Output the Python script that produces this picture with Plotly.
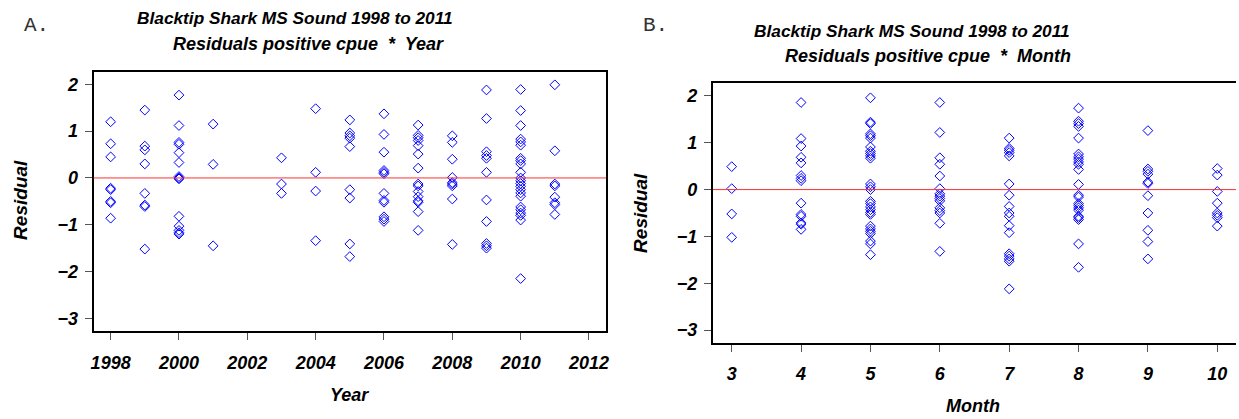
import plotly.graph_objects as go

# ---------------- data ----------------
years = [1998, 1999, 2000, 2001, 2003, 2004, 2005, 2006, 2007, 2008, 2009, 2010, 2011]
resid_by_year = [
    [1.2, 0.73, 0.45, -0.22, -0.25, -0.5, -0.53, -0.86],
    [1.45, 0.68, 0.6, 0.3, -0.33, -0.58, -0.61, -1.52],
    [1.77, 1.12, 0.76, 0.72, 0.54, 0.33, 0.03, 0.0, -0.02, -0.82, -1.03, -1.12, -1.17, -1.2],
    [1.15, 0.29, -1.45],
    [0.43, -0.13, -0.33],
    [1.48, 0.12, -0.28, -1.34],
    [1.24, 0.96, 0.9, 0.85, 0.67, -0.25, -0.43, -1.41, -1.68],
    [1.37, 0.93, 0.55, 0.16, 0.12, 0.09, -0.33, -0.48, -0.52, -0.83, -0.88, -0.93],
    [1.13, 0.91, 0.86, 0.8, 0.69, 0.51, 0.21, -0.13, -0.17, -0.29, -0.4, -0.49, -0.52, -0.72, -1.12],
    [0.9, 0.76, 0.4, 0.01, -0.1, -0.13, -0.17, -0.45, -1.42],
    [1.88, 1.27, 0.56, 0.48, 0.42, 0.12, -0.47, -0.93, -1.4, -1.45, -1.5],
    [1.89, 1.44, 1.12, 0.83, 0.77, 0.7, 0.42, 0.37, 0.3, 0.12, 0.0, -0.06, -0.12, -0.18,
     -0.25, -0.32, -0.39, -0.62, -0.68, -0.75, -0.8, -0.9, -2.15],
    [1.99, 0.58, -0.13, -0.17, -0.41, -0.53, -0.57, -0.78],
]

months = [3, 4, 5, 6, 7, 8, 9, 10]
resid_by_month = [
    [0.49, 0.02, -0.52, -1.02],
    [1.86, 1.09, 0.93, 0.69, 0.57, 0.3, 0.24, 0.19, -0.29, -0.53, -0.57, -0.71, -0.74, -0.85],
    [1.96, 1.44, 1.41, 1.19, 1.15, 1.1, 0.91, 0.82, 0.77, 0.72, 0.67, 0.12, 0.06, 0.0,
     -0.25, -0.3, -0.37, -0.43, -0.49, -0.53, -0.78, -0.84, -0.89, -0.94, -1.1, -1.16, -1.39],
    [1.86, 1.22, 0.68, 0.54, 0.29, 0.02, -0.09, -0.14, -0.19, -0.24, -0.39, -0.45, -0.5, -0.72, -1.32],
    [1.1, 0.88, 0.84, 0.79, 0.72, 0.12, -0.12, -0.36, -0.5, -0.57, -0.77, -0.92, -1.37, -1.42,
     -1.48, -1.53, -2.12],
    [1.74, 1.46, 1.41, 1.35, 1.1, 0.76, 0.7, 0.65, 0.59, 0.54, 0.43, 0.11, -0.12, -0.16, -0.3,
     -0.34, -0.39, -0.44, -0.57, -0.6, -0.64, -1.16, -1.66],
    [1.26, 0.44, 0.39, 0.33, 0.16, 0.13, -0.13, -0.5, -0.87, -1.11, -1.48],
    [0.45, 0.31, -0.04, -0.29, -0.5, -0.55, -0.6, -0.78],
]

year_ticks = [1998, 2000, 2002, 2004, 2006, 2008, 2010, 2012]
month_ticks = [3, 4, 5, 6, 7, 8, 9, 10]
resid_ticks = [-3, -2, -1, 0, 1, 2]

title_line1 = "Blacktip Shark MS Sound 1998 to 2011"
title_year = "Residuals positive cpue\u00a0 *\u00a0 Year"
title_month = "Residuals positive cpue\u00a0 *\u00a0 Month"

# ---------------- build ----------------
W, H = 1239, 419
FONT = "Liberation Sans"

xa, ya = [], []
for yr, vals in zip(years, resid_by_year):
    xa += [yr] * len(vals)
    ya += vals
xb, yb = [], []
for m, vals in zip(months, resid_by_month):
    xb += [m] * len(vals)
    yb += vals

marker = dict(symbol="diamond-open", size=7.5, color="#0000FF", line=dict(width=1, color="#0000FF"))

fig = go.Figure()
fig.add_trace(go.Scatter(x=xa, y=ya, mode="markers", marker=marker, xaxis="x", yaxis="y",
                         showlegend=False, hoverinfo="x+y"))
fig.add_trace(go.Scatter(x=xb, y=yb, mode="markers", marker=marker, xaxis="x2", yaxis="y2",
                         showlegend=False, hoverinfo="x+y"))

tickfont = dict(family=FONT, size=18, color="black", style="italic", weight="bold")
common_axis = dict(showgrid=False, zeroline=False, showline=True, linecolor="black", linewidth=2,
                   ticks="outside", ticklen=7, tickwidth=1, tickcolor="#555555", tickfont=tickfont)

def px_x(p):
    return p / W

def px_y(p):
    return 1 - p / H

fig.update_layout(
    width=W, height=H, margin=dict(l=0, r=0, t=0, b=0),
    paper_bgcolor="white", plot_bgcolor="white",
    xaxis=dict(common_axis, domain=[px_x(91), px_x(606)], range=[1997.5, 2012.5],
               tickvals=year_ticks, mirror=True, anchor="y", ticklabelstandoff=7),
    yaxis=dict(common_axis, domain=[px_y(331), px_y(71.7)], range=[-3.27, 2.27],
               tickvals=resid_ticks, mirror=True, anchor="x", ticklabelstandoff=3),
    xaxis2=dict(common_axis, domain=[px_x(713.3), 1.0], range=[2.728, 10.27],
                tickvals=month_ticks, mirror=True, anchor="y2", ticklabelstandoff=7),
    yaxis2=dict(common_axis, domain=[px_y(342.7), px_y(83.3)], range=[-3.27, 2.27],
                tickvals=resid_ticks, mirror=False, anchor="x2", ticklabelstandoff=3),
)

# zero reference lines
fig.add_shape(type="line", xref="x domain", yref="y", x0=0, x1=1, y0=0, y1=0,
              line=dict(color="#FF3030", width=1))
fig.add_shape(type="line", xref="x2 domain", yref="y2", x0=0, x1=1, y0=0, y1=0,
              line=dict(color="#FF3030", width=1))

t1font = dict(family=FONT, size=17.3, color="black", style="italic", weight="bold")
tfont = dict(family=FONT, size=18, color="black", style="italic", weight="bold")
afont = dict(family=FONT, size=18, color="black", style="italic", weight="bold")
rfont = dict(family=FONT, size=19, color="black", style="italic", weight="bold")
lfont = dict(family="Liberation Mono", size=21, color="#333333")

def ann(text, x, y, font, **kw):
    fig.add_annotation(text=text, x=px_x(x), y=px_y(y), xref="paper", yref="paper",
                       showarrow=False, font=font, xanchor="center", yanchor="middle", **kw)

# titles
ann(title_line1, 293, 18, t1font)
ann(title_year, 307, 44, tfont)
ann(title_line1, 913, 31, t1font)
ann(title_month, 930, 56, tfont)
# panel letters
ann("A.", 34, 25, lfont)
ann("B.", 656, 25, lfont)
# axis titles
ann("Year", 348, 395, afont)
ann("Month", 975, 406, afont)
ann("Residual", 18, 200, rfont, textangle=-90)
ann("Residual", 640, 213, rfont, textangle=-90)

fig.write_html("out.html")
